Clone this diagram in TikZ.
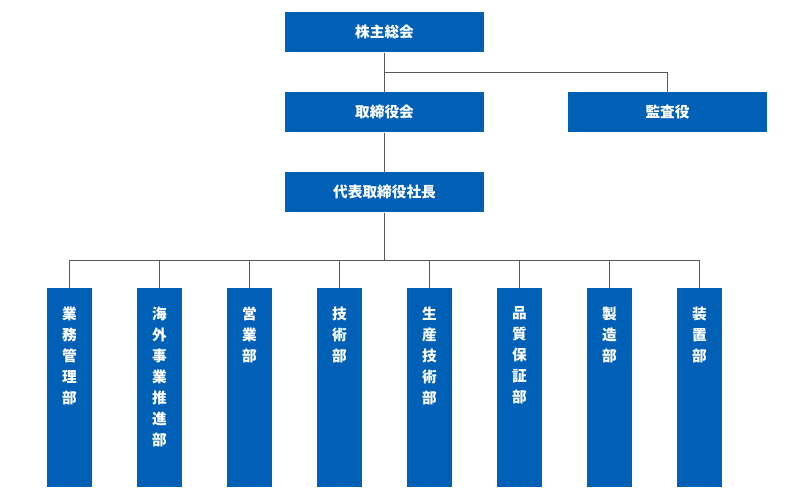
\documentclass[tikz,border=0pt]{standalone}
\usepackage{fontspec}
\setmainfont{Noto Sans CJK JP}
\usetikzlibrary{positioning}
\definecolor{boxblue}{RGB}{0,96,182}
\definecolor{linegray}{RGB}{90,90,90}
\tikzset{every picture/.style={line width=0.75pt}}
\tikzset{
  wide/.style={fill=boxblue,text=white,minimum width=149.25pt,minimum height=30pt,inner sep=0pt,font=\bfseries\fontsize{11}{13}\selectfont},
  tall/.style={fill=boxblue,text=white,minimum width=33.75pt,minimum height=149.25pt,inner sep=0pt},
  vtext/.style={anchor=north,text=white,align=center,inner sep=0pt,font=\bfseries\fontsize{11}{15.75}\selectfont},
  conn/.style={draw=linegray,line width=0.6pt}
}
\begin{document}
\begin{tikzpicture}[x=0.75pt,y=0.75pt,yscale=-1,xscale=1]
\useasboundingbox (0,0) rectangle (800,500);

% upper boxes
\node [wide] (kabu) at (384.5,32) {株主総会};
\node [wide] (tori) at (384.5,112) {取締役会};
\node [wide] (kan) at (667.5,112) {監査役};
\node [wide] (shacho) at (384.5,192) {代表取締役社長};

\coordinate (br) at (384.5,72);
\coordinate (bus) at (384.5,260);
\draw [conn] (kabu) -- (tori);
\draw [conn] (tori) -- (shacho);
\draw [conn] (br) -| (kan);
\draw [conn] (shacho) -- (bus);
\draw [conn] (69.5,260) -- (699.5,260);

% departments
\foreach \i/\txt in {0/{業\\務\\管\\理\\部},1/{海\\外\\事\\業\\推\\進\\部},2/{営\\業\\部},3/{技\\術\\部},4/{生\\産\\技\\術\\部},5/{品\\質\\保\\証\\部},6/{製\\造\\部},7/{装\\置\\部}}{
  \node [tall] (d\i) at (69.5+90*\i,387.5) {};
  \node [vtext] (t\i) at (69.5+90*\i,306) {\txt};
  \draw [conn] (69.5+90*\i,260) -- (d\i.north);
}
\end{tikzpicture}
\end{document}
